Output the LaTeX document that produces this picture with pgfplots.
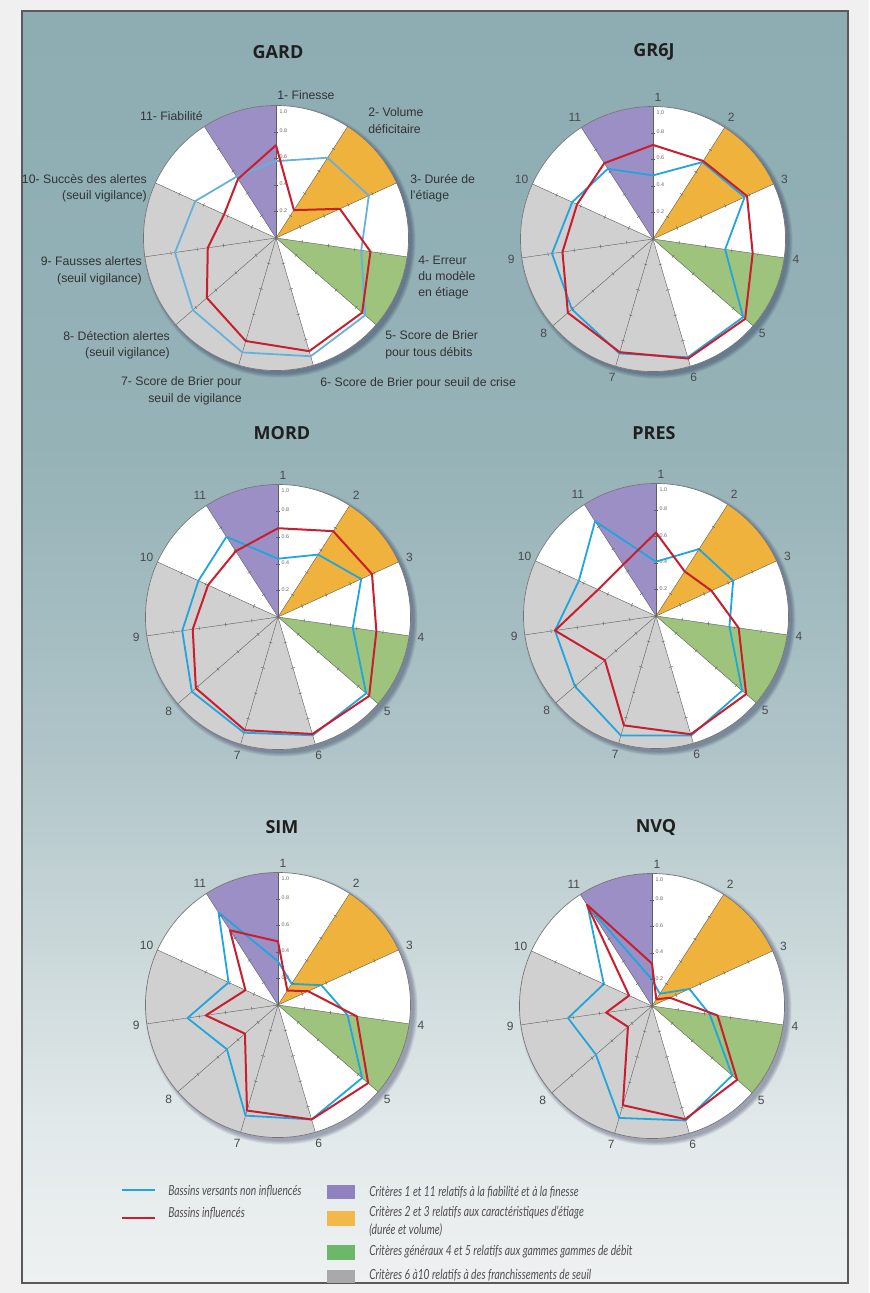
\documentclass[border=0pt]{standalone}
\usepackage{pgfplots}
\pgfplotsset{compat=1.18}
\usepgfplotslibrary{polar}
\usepackage{pgfplotstable}
\usetikzlibrary{calc}
\usepackage{fontspec}
\setmainfont{Liberation Sans}
\newfontfamily\titlefont{Open Sans}
\newfontfamily\legfont[FakeStretch=0.74]{Lato}

% ---------- colours ----------
\definecolor{pageBg}{HTML}{F0F0F0}
\definecolor{frameCol}{HTML}{5A5A5A}
\definecolor{bgA}{HTML}{8DADB2}
\definecolor{bgB}{HTML}{95B2B7}
\definecolor{bgC}{HTML}{AFC4C8}
\definecolor{bgD}{HTML}{CBD8DA}
\definecolor{bgE}{HTML}{E2E9EA}
\definecolor{bgF}{HTML}{EEF1F1}
\definecolor{wPurple}{HTML}{9C8FC6}
\definecolor{wOrange}{HTML}{EFB23C}
\definecolor{wGreen}{HTML}{9DC37C}
\definecolor{wGrey}{HTML}{D0D0D0}
\definecolor{axGrey}{HTML}{5E5E5E}
\definecolor{lnBlue}{HTML}{22A5DC}
\definecolor{lnBlueSoft}{HTML}{68B0DA}
\definecolor{lnRed}{HTML}{C81E2D}
\definecolor{txtDark}{HTML}{333333}
\definecolor{txtNum}{HTML}{4A4A4A}
\definecolor{legTxt}{HTML}{4F4F4F}
\definecolor{legPurple}{HTML}{8F82BF}
\definecolor{legOrange}{HTML}{F2B84A}
\definecolor{legGreen}{HTML}{6DB76A}
\definecolor{legGrey}{HTML}{A9A9A9}

\pgfdeclareverticalshading{panelbg}{100bp}{%
  color(0bp)=(bgF); color(25bp)=(bgF); color(31bp)=(bgE); color(38bp)=(bgD);
  color(46bp)=(bgC); color(58bp)=(bgB); color(75bp)=(bgA); color(100bp)=(bgA)}

% ---------- scores per criterion (angle of each criterion axis, clockwise from the top) ----------
\pgfplotstableread{
crit ang blue red
1  90      0.58 0.70
2  57.273  0.72 0.25
3  24.545  0.77 0.53
4  351.818 0.65 0.72
5  319.091 0.89 0.86
6  286.364 0.93 0.89
7  253.636 0.90 0.81
8  220.909 0.83 0.69
9  188.182 0.77 0.52
10 155.455 0.67 0.43
11 122.727 0.55 0.53
}\tabGARD

\pgfplotstableread{
crit ang blue red
1  90      0.48 0.71
2  57.273  0.69 0.70
3  24.545  0.76 0.78
4  351.818 0.55 0.76
5  319.091 0.90 0.92
6  286.364 0.93 0.94
7  253.636 0.90 0.89
8  220.909 0.81 0.85
9  188.182 0.77 0.69
10 155.455 0.67 0.63
11 122.727 0.63 0.68
}\tabGRSIX

\pgfplotstableread{
crit ang blue red
1  90      0.44 0.67
2  57.273  0.56 0.77
3  24.545  0.69 0.78
4  351.818 0.57 0.75
5  319.091 0.88 0.91
6  286.364 0.93 0.92
7  253.636 0.91 0.89
8  220.909 0.86 0.82
9  188.182 0.73 0.65
10 155.455 0.66 0.58
11 122.727 0.72 0.59
}\tabMORD

\pgfplotstableread{
crit ang blue red
1  90      0.41 0.63
2  57.273  0.60 0.40
3  24.545  0.64 0.46
4  351.818 0.56 0.63
5  319.091 0.86 0.90
6  286.364 0.94 0.93
7  253.636 0.94 0.86
8  220.909 0.81 0.51
9  188.182 0.77 0.77
10 155.455 0.64 0.48
11 122.727 0.85 0.46
}\tabPRES

\pgfplotstableread{
crit ang blue red
1  90      0.33 0.48
2  57.273  0.19 0.13
3  24.545  0.36 0.25
4  351.818 0.53 0.60
5  319.091 0.84 0.90
6  286.364 0.90 0.90
7  253.636 0.87 0.83
8  220.909 0.51 0.33
9  188.182 0.69 0.55
10 155.455 0.41 0.27
11 122.727 0.83 0.67
}\tabSIM

\pgfplotstableread{
crit ang blue red
1  90      0.20 0.32
2  57.273  0.11 0.06
3  24.545  0.31 0.15
4  351.818 0.44 0.50
5  319.091 0.80 0.85
6  286.364 0.90 0.89
7  253.636 0.88 0.78
8  220.909 0.56 0.24
9  188.182 0.64 0.35
10 155.455 0.40 0.19
11 122.727 0.90 0.91
}\tabNVQ

% ---------- shared radar layout ----------
\def\Rr{99.4pt}
\pgfplotsset{
  radar/.style={
    width=198.8pt, height=198.8pt, scale only axis,
    xmin=0, xmax=360, ymin=0, ymax=1,
    xtick=\empty, ytick=\empty, grid=none,
    axis line style={draw=none},
    clip=false, anchor=center,
  },
}
\tikzset{
  ticklbl/.style={font=\fontsize{4}{4}\selectfont, text=black!60, anchor=west, inner sep=0pt, xshift=2.5pt},
  numlbl/.style={font=\fontsize{9}{10}\selectfont, text=txtNum, inner sep=0pt},
  crit/.style={font=\fontsize{9.2}{12.3}\selectfont, text=txtDark, inner sep=0pt},
  title/.style={font=\titlefont\bfseries\fontsize{13.5}{16}\selectfont, text=black!88, inner sep=0pt},
  legtext/.style={font=\legfont\itshape\fontsize{10.4}{12}\selectfont, text=legTxt, anchor=west, inner sep=0pt},
}

% coloured criterion sectors, criterion axes with their ticks, radial scale
\newcommand\radarbase{%
  \addplot[draw=none, fill=white] coordinates {(0,0) (0,1)} arc[start angle=0, end angle=360, radius=\Rr] -- cycle;
  \addplot[draw=none, fill=wOrange] coordinates {(0,0) (57.273,1)} arc[start angle=57.273, end angle=24.545, radius=\Rr] -- cycle;
  \addplot[draw=none, fill=wGreen] coordinates {(0,0) (351.818,1)} arc[start angle=-8.182, end angle=-40.909, radius=\Rr] -- cycle;
  \addplot[draw=none, fill=wGrey] coordinates {(0,0) (286.364,1)} arc[start angle=-73.636, end angle=-204.545, radius=\Rr] -- cycle;
  \addplot[draw=none, fill=wPurple] coordinates {(0,0) (122.727,1)} arc[start angle=122.727, end angle=90, radius=\Rr] -- cycle;
  \pgfplotsinvokeforeach{90,57.273,24.545,351.818,319.091,286.364,253.636,220.909,188.182,155.455,122.727}{%
    \addplot[axGrey, line width=0.3pt] coordinates {(##1,0) (##1,1)};
    \addplot[axGrey, only marks, mark=|, mark size=1.4pt, mark options={rotate=##1, line width=0.3pt}]
      coordinates {(##1,0.2) (##1,0.4) (##1,0.6) (##1,0.8)};
  }%
  \draw[black!55, line width=0.5pt] (axis cs:0,0) circle[radius=\Rr];
  \node[ticklbl] at (axis cs:90,0.21) {0.2};
  \node[ticklbl] at (axis cs:90,0.41) {0.4};
  \node[ticklbl] at (axis cs:90,0.61) {0.6};
  \node[ticklbl] at (axis cs:90,0.81) {0.8};
  \node[ticklbl] at (axis cs:90,0.95) {1.0};
}
\newcommand\radarnums{%
  \node[numlbl] at (axis cs:88,1.07) {1};
  \node[numlbl] at (axis cs:57.273,1.09) {2};
  \node[numlbl] at (axis cs:24.545,1.09) {3};
  \node[numlbl] at (axis cs:351.818,1.09) {4};
  \node[numlbl] at (axis cs:319.091,1.09) {5};
  \node[numlbl] at (axis cs:286.364,1.09) {6};
  \node[numlbl] at (axis cs:253.636,1.09) {7};
  \node[numlbl] at (axis cs:220.909,1.09) {8};
  \node[numlbl] at (axis cs:188.182,1.08) {9};
  \node[numlbl] at (axis cs:155.455,1.09) {10};
  \node[numlbl] at (axis cs:122.727,1.09) {11};
}
% soft shadow to the lower right of a disc
\newcommand\shadowdisc[1]{%
  \foreach \i in {0,...,5}{\fill[black!80!blue, opacity=0.055] ($(#1)+(3.5,3.5)$) circle[radius=99.4pt+\i*0.55pt];}%
}
\newcommand\scorelines[2]{%
  \addplot[#2, line width=1.35pt, line join=round] table[x=ang, y=blue] {#1} -- cycle;
  \addplot[lnRed, line width=1.5pt, line join=round] table[x=ang, y=red] {#1} -- cycle;
}

\begin{document}
\begin{tikzpicture}[x=0.75pt, y=-0.75pt]
\useasboundingbox (0,0) rectangle (869,1293);
\fill[pageBg] (0,0) rectangle (869,1293);
\shade[shading=panelbg] (22,11) rectangle (848,1283);
\draw[frameCol, line width=0.9pt] (22,11) rectangle (848,1283);

% ---------- GARD ----------
\coordinate (cA) at (276,238);
\shadowdisc{cA}
\begin{polaraxis}[radar, at={(cA)}]
  \radarbase
  \scorelines{\tabGARD}{lnBlueSoft}
\end{polaraxis}
\node[title] at (278,52) {GARD};
\node[crit, anchor=west] at (277,95) {1- Finesse};
\node[crit, anchor=west, align=left] at (368,120.5) {2- Volume\\déficitaire};
\node[crit, anchor=west, align=left] at (410,188) {3- Durée de\\l'étiage};
\node[crit, anchor=west, align=left] at (418,277.5) {4- Erreur\\du modèle\\en étiage};
\node[crit, anchor=west, align=left] at (385,345) {5- Score de Brier\\pour tous débits};
\node[crit, anchor=west] at (320,383) {6- Score de Brier pour seuil de crise};
\node[crit, anchor=east, align=right] at (242,391) {7- Score de Brier pour\\seuil de vigilance};
\node[crit, anchor=east, align=right] at (170,345) {8- Détection alertes\\(seuil vigilance)};
\node[crit, anchor=east, align=right] at (142,271) {9- Fausses alertes\\(seuil vigilance)};
\node[crit, anchor=east, align=right] at (147,188) {10- Succès des alertes\\(seuil vigilance)};
\node[crit, anchor=east] at (203,116) {11- Fiabilité};

% ---------- GR6J ----------
\coordinate (cB) at (653,239);
\shadowdisc{cB}
\begin{polaraxis}[radar, at={(cB)}]
  \radarbase
  \scorelines{\tabGRSIX}{lnBlue}
  \radarnums
\end{polaraxis}
\node[title] at (654,52) {GR6J};

% ---------- MORD ----------
\coordinate (cC) at (278,617);
\shadowdisc{cC}
\begin{polaraxis}[radar, at={(cC)}]
  \radarbase
  \scorelines{\tabMORD}{lnBlue}
  \radarnums
\end{polaraxis}
\node[title] at (282,433) {MORD};

% ---------- PRES ----------
\coordinate (cD) at (656,616);
\shadowdisc{cD}
\begin{polaraxis}[radar, at={(cD)}]
  \radarbase
  \scorelines{\tabPRES}{lnBlue}
  \radarnums
\end{polaraxis}
\node[title] at (654,433) {PRES};

% ---------- SIM ----------
\coordinate (cE) at (278,1005);
\shadowdisc{cE}
\begin{polaraxis}[radar, at={(cE)}]
  \radarbase
  \scorelines{\tabSIM}{lnBlue}
  \radarnums
\end{polaraxis}
\node[title] at (282,827) {SIM};

% ---------- NVQ ----------
\coordinate (cF) at (652,1006);
\shadowdisc{cF}
\begin{polaraxis}[radar, at={(cF)}]
  \radarbase
  \scorelines{\tabNVQ}{lnBlue}
  \radarnums
\end{polaraxis}
\node[title] at (656,827) {NVQ};

% ---------- legend ----------
\draw[lnBlue, line width=1.1pt] (122,1190) -- (155,1190);
\node[legtext] at (168,1191) {Bassins versants non influencés};
\draw[lnRed, line width=1.1pt] (122,1218) -- (155,1218);
\node[legtext] at (168,1213) {Bassins influencés};
\fill[legPurple] (327,1185) rectangle (355,1199);
\node[legtext] at (369,1192) {Critères 1 et 11 relatifs à la fiabilité et à la finesse};
\fill[legOrange] (327,1211) rectangle (355,1226);
\node[legtext] at (369,1213) {Critères 2 et 3 relatifs aux caractéristiques d’étiage};
\node[legtext] at (369,1230) {(durée et volume)};
\fill[legGreen] (327,1245) rectangle (355,1260);
\node[legtext] at (369,1252) {Critères généraux 4 et 5 relatifs aux gammes gammes de débit};
\fill[legGrey] (327,1270) rectangle (355,1283);
\node[legtext] at (369,1275) {Critères 6 à10 relatifs à des franchissements de seuil};
\end{tikzpicture}
\end{document}
